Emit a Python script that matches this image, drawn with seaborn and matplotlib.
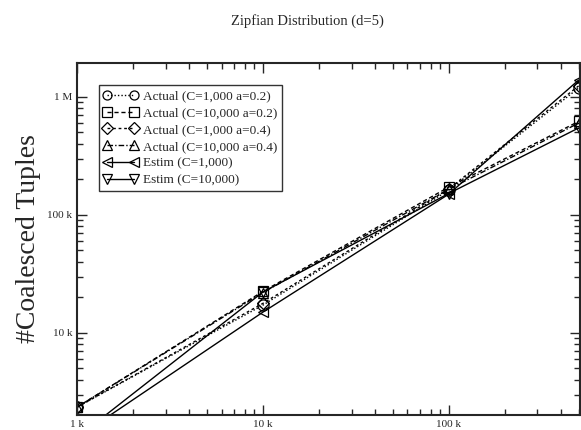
import numpy as np
import pandas as pd
import matplotlib
matplotlib.use("Agg")
import matplotlib.pyplot as plt
import seaborn as sns
from matplotlib.ticker import FixedLocator, LogLocator, NullFormatter

# data
x_vals = [1000, 10000, 100000, 500000]
actual_c1k_a02 = [2350, 17200, 162000, 1190000]
actual_c10k_a02 = [2350, 22500, 172000, 620000]
actual_c1k_a04 = [2350, 17800, 166000, 1240000]
actual_c10k_a04 = [2350, 22000, 165000, 600000]
estim_c1k = [1300, 15000, 150000, 1390000]
estim_c10k = [1300, 22200, 152000, 546000]

labels = ['Actual (C=1,000 a=0.2)', 'Actual (C=10,000 a=0.2)',
          'Actual (C=1,000 a=0.4)', 'Actual (C=10,000 a=0.4)',
          'Estim (C=1,000)', 'Estim (C=10,000)']
series = [actual_c1k_a02, actual_c10k_a02, actual_c1k_a04, actual_c10k_a04,
          estim_c1k, estim_c10k]
markers = ['o', 's', 'D', '^', '<', 'v']
msizes = [8, 7, 6, 7, 7, 7]
lstyles = [(0, (1, 1.5)), (0, (3, 2)), (0, (2, 2)), (0, (4, 1.5, 1, 1.5)), '-', '-']

df = pd.DataFrame({
    'x': np.tile(x_vals, len(series)),
    'y': np.concatenate(series),
    'series': np.repeat(labels, len(x_vals)),
})

sns.set_style("ticks")
plt.rcParams['font.family'] = ['Liberation Serif', 'DejaVu Serif']

fig = plt.figure(figsize=(5.81, 4.30), dpi=100)
ax = fig.add_axes([0.1325, 0.035, 0.865, 0.8185])

for lab, m, ms, ls in zip(labels, markers, msizes, lstyles):
    sub = df[df['series'] == lab]
    sns.lineplot(data=sub, x='x', y='y', ax=ax, color='black', marker=m,
                 markersize=ms, markerfacecolor='none', markeredgecolor='black',
                 markeredgewidth=0.9, linewidth=1.0, linestyle=ls, label=lab)

ax.set_xscale('log')
ax.set_yscale('log')
ax.set_xlim(1000, 506000)
ax.set_ylim(2020, 1.94e6)

ax.xaxis.set_major_locator(FixedLocator([1000, 10000, 100000]))
ax.set_xticklabels(['1 k', '10 k', '100 k'])
ax.yaxis.set_major_locator(FixedLocator([10000, 100000, 1000000]))
ax.set_yticklabels(['10 k', '100 k', '1 M'])
ax.xaxis.set_minor_locator(LogLocator(base=10, subs=np.arange(2, 10)))
ax.yaxis.set_minor_locator(LogLocator(base=10, subs=np.arange(2, 10)))
ax.xaxis.set_minor_formatter(NullFormatter())
ax.yaxis.set_minor_formatter(NullFormatter())
ax.tick_params(which='both', direction='in', top=True, right=True, labelsize=8, width=1.0)
ax.tick_params(which='major', length=7)
ax.tick_params(which='minor', length=4)
for s in ax.spines.values():
    s.set_linewidth(1.5)

ax.set_xlabel('')
ax.set_ylabel('#Coalesced Tuples', fontsize=20)
ax.yaxis.set_label_coords(-0.072, 0.5)
fig.text(0.53, 0.95, 'Zipfian Distribution (d=5)', ha='center', va='center', fontsize=10.5)

leg = ax.legend(loc='upper left', bbox_to_anchor=(0.03, 0.955), fontsize=9.5, frameon=True,
                fancybox=False, edgecolor='black', handlelength=2.6, numpoints=2,
                borderpad=0.35, labelspacing=0.35, handletextpad=0.4)
leg.get_frame().set_linewidth(1.0)
for h in leg.legend_handles:
    h.set_markersize(6.5)

fig.savefig('out.png', dpi=100)
